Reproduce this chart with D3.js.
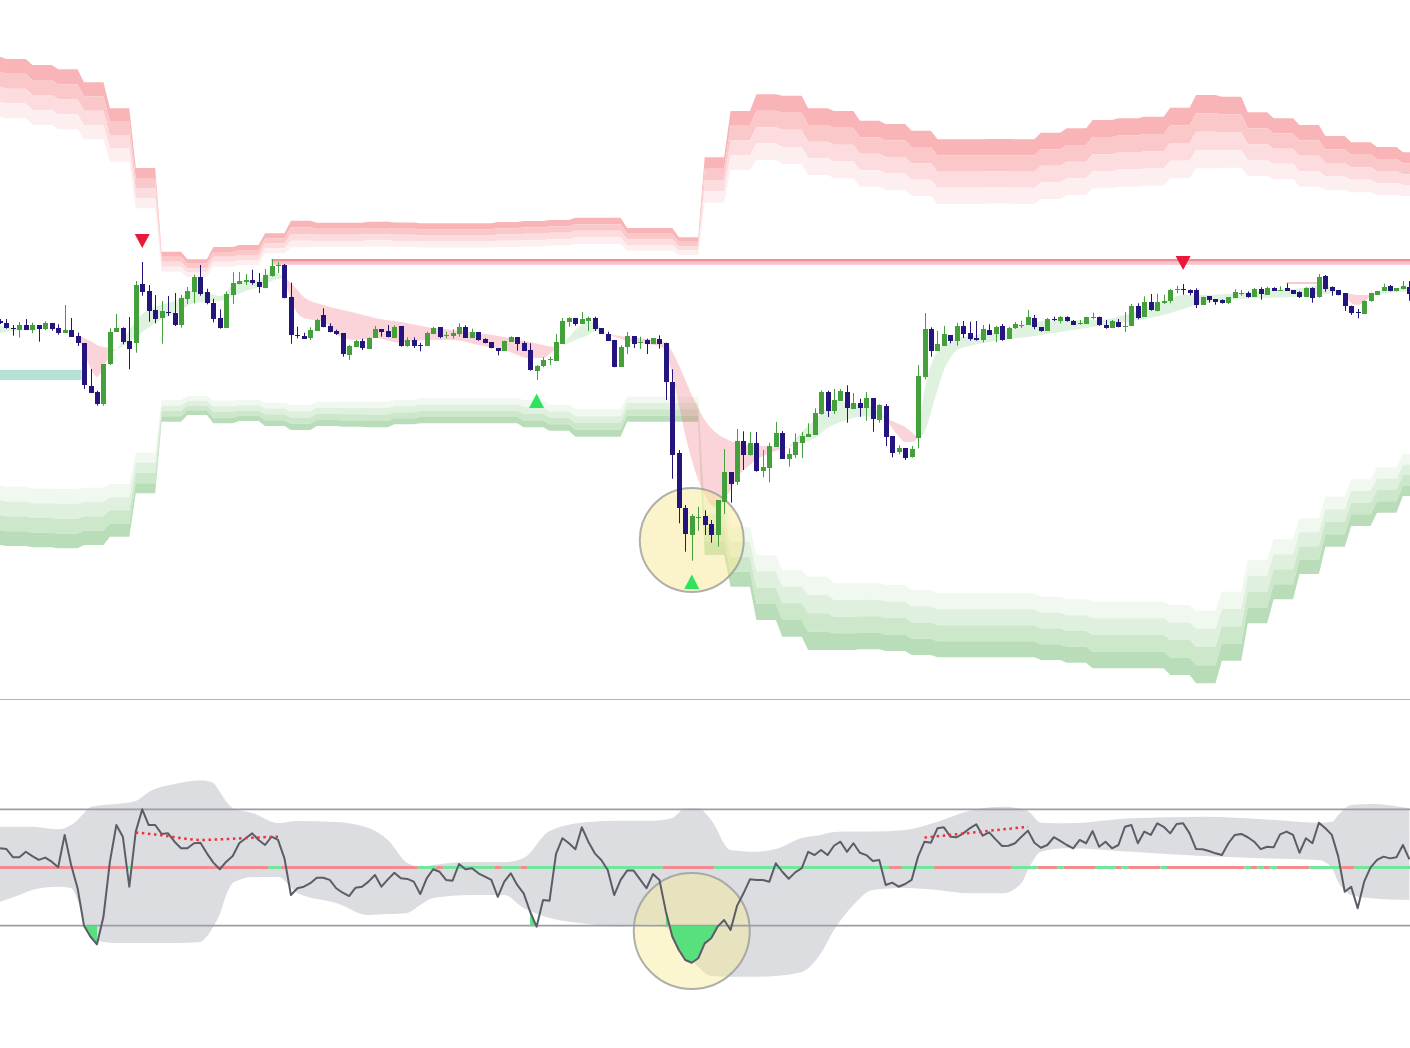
<!DOCTYPE html>
<html><head><meta charset="utf-8">
<script src="https://cdn.jsdelivr.net/npm/d3@7"></script>
<style>html,body{margin:0;padding:0;background:#fff;overflow:hidden}svg{display:block}</style>
</head><body>
<svg id="chart" width="1410" height="1048"></svg>
<script>
// ---------- candles (price units) ----------
const open = [379,376.7,372,370,375,370,375,371,377,372, 367,370.3,364,356.7,314.3,308,296,336,368,372, 359,357.3,416.3,409,390,382,388,387,375,401, 408.3,423,408.3,397,382,372,405.3,416.3,418.3,420, 418,412.3,424.3,434.7,435.3,402.7,364.7,364.3,361.7,369.3, 385.3,374,369.3,367,345,353.3,359.3,351,362.3,371, 369.3,362.7,374,354.3,360,355,354.3,366.3,373,364.3, 364,366,373.3,362,368,361,358,352,349.3,358, 363,357.3,349.7,329.3,334,340.3,339.3,356,378.3,382, 376,379.3,382,371.7,366,359.7,333.3,353,364,357.3, 359.7,355.7,361.3,357.3,318.3,246.7,191.7,165.3,183,183.7, 176,165.3,198.3,228,218.3,259,245,257,229,232, 253,267,241.3,245.3,257.3,263.3,265,286.3,308.3,289.3, 299,308,291.3,297,292,302,280.3,294,264,248, 252,242.3,262.3,323.3,371,349.3,354.3,365,359.3,374, 367,361.7,360,370,365.3,374,361,372,375,375, 381.7,372.7,369.3,381.3,378.7,383,379,376.7,376,382.7, 382.7,374.7,372,378,374,374.3,394,383.3,398,388.7, 396.7,398.7,410.7,411,410,410,395.3,403.7,400.7,400, 396.7,402.3,406.7,407,403,410.7,405.3,412.3,410,412.3, 410,408,403.3,412,402.3,423.7,413,410,407,394.3, 387.7,386.3,398.3,405.3,409.3,414,409.3,410.7,413.3];
const high = [381,381,375,378,381,377.3,375,378.7,377,375.7, 395,382,367.3,356.7,331,309.3,336,371.7,386,372.7, 383,419,438,415,405,399,404,407,405,413, 425.3,435,411.3,401.3,390.7,408.3,427.7,428,426,430.3, 427,431,440.7,438,436,417.3,373.3,367.3,372.7,381, 391.7,376.7,370.3,367,355,360,361.3,362.7,374,371, 375,374.7,374,362.7,362.7,357.3,368.3,373.3,373,368.3, 370.7,376.7,374.7,371.3,368,361.7,358,352,359.3,363.7, 363,358.7,356.7,335,342.7,343.3,366,382,382.7,382, 388,383.3,383.3,371.7,368.3,359.7,354.7,368,364,363.3, 361.3,362,364.7,357.3,330.7,250,195,186,193.3,189.7, 180,200,250.7,228,271,268.7,268,268,250,257.3, 278,269,251.7,266.7,268,276.7,291.7,309.7,309.3,311, 311,314.7,307,301.3,308,302,295.7,296,264,254.7, 252,254,335,387,372.7,369,374,365,377.3,379, 378.3,379,375,375.7,374,376,373.3,378,379.3,390, 385,372.7,382,383.3,384,383.7,380,380,383.3,387.3, 383.3,380,380,381,388,396,396.7,403.7,406,406.3, 405.3,411,414.3,416,410.7,411.7,403.3,403.7,400.7,400.7, 403,410.7,410,408.7,412,412.7,413.3,412.7,413.7,416.7, 410,408.7,412.7,412.7,426,425,413.7,410,407,394.3, 391,399.7,407.3,409.3,416.3,415,412,419,419];
const low = [376,371.3,364.3,362.3,370,366.7,358.3,370,369.3,365.3, 367,363,354,311,307.3,294.3,294.3,335,368,355.7, 330.7,347.3,404.3,378.3,376.7,356.3,384,374,372.3,396, 396.7,404.3,395.7,377.7,371.3,372,396,415.7,415,415.3, 407,411.7,423.3,427,401.7,356.3,361.7,361.3,360,369, 372.7,367.7,365,343.3,340,353.3,350,351,362.3,363.3, 362.7,362,353.3,353.3,352,348.7,354,366,361.7,361.7, 361.3,363.3,362,362,359.3,356.7,351.7,344.7,349.3,358, 349.3,349.3,329.3,320,332.7,335,339.3,356,373.3,374.3, 376,369,369,366,359,332.7,333.3,346,352,351, 346,355.7,351.3,300,221.3,176.7,148.3,139.3,169.3,165, 157.3,153.3,186,197.3,215,230,244.3,228.3,222.7,217.7, 253,241.3,233.3,242,242,263.3,265,285.3,283,286, 299,277.3,291.3,283.3,279.3,268.3,277.3,254,242.7,245.7, 240,242.3,251.7,320.7,343.3,349.3,354.3,356.7,354.3,362, 359.3,359.3,357.7,365.3,357.7,359.3,361,371,372,375, 370.7,368.3,369.3,379,376.7,378.3,375.3,375.3,376,380.7, 374.3,371.3,372,372.7,368,374.3,380.7,383.3,389.3,388.7, 396,396.7,406.7,405.3,404.7,392,395.3,397.3,395.3,396.3, 396,402.3,404.3,402.3,403,400.3,405.3,409.3,409.3,409.3, 406.3,402,403.3,397.3,402.3,408.3,404.3,404.7,389,385, 381.7,386.3,398.3,405.3,409.3,408.7,408.7,410.7,399.3];
const close = [377.5,371.3,371.3,375,370,375,371.3,377,371,367, 370.3,363,357.3,315,307.3,296,336,368,372,358, 351,415,408.3,389.3,381,389,387,375,402,409, 423,406,397,381,372,406,417.3,419,420,417.3, 412.7,425,434,435,402.3,364.3,363.7,361.3,370,380, 373.3,368.3,366,346.3,354.3,359.3,352,362,371,368, 363.3,373.3,354,360,354.3,354,367.3,372,363,365, 367.3,373,362.7,368,360,357.3,352.3,349.3,359.3,363, 356,349.3,330,334,340,340.7,358,379.3,382,376, 381,382,371,366,359,332.7,353.3,363.7,356,357.7, 355.3,362,356,318.3,245.3,191.3,165.3,184,183.3,174.3, 165.3,200,228,216,259,245,257,229,233.3,254, 267,241.3,246,258,264,266,287,308.3,289.3,300, 309,291.7,297,292,302,281.3,295,262.7,247.3,252, 242.3,250.7,324,371,349.3,356,366,359.3,374,366, 361,360,371,365.3,372.7,360,371.7,376.3,375.3,383, 372.7,369,381,380.7,382.7,379.3,375.3,377,382.7,383, 374.3,372,379,373.3,374.3,394,382,398,390,398, 399,410,411,410.3,407.3,395.3,403.3,400,397.7,397, 403,408,407,403,411.3,405.7,412.3,409.3,410.3,409.3, 406.3,403.3,412,402.3,422.7,411,409.3,404.7,394.3,387, 387,399.3,406.7,409.3,413.3,409.3,412,414,406.7];

// ---------- higher-timeframe bands, one value per 4-bar block ----------
const redTop = [643.3,641,635,630.7,617.7,591.7,532,448.3,440.7,453,455,466.7,479.3,477.3,477.3,478.3,477.5,476.7,476.7,476.7,478,479,480,482.3,482.3,472,472,462.7,542.7,589,605.7,604.3,591.7,589,579.3,576,569.3,560.7,560.7,561,560.7,567.3,571.7,580,581.7,583.3,592.3,605,603.3,587.7,581.7,575,564,557.7,553,547.7];
const redBot = [583,581.7,575,570.7,560.7,538.3,491.7,428.3,423,433.3,435,446.7,452.7,453,453,453.5,453,452.5,452.5,452.5,453,453.5,454.5,456,456,449.3,449.3,445,497.3,530,540,536,525,521.7,513.3,510,504,496,496,496.5,496,501,505,511.7,513.3,514.3,521.7,531.7,532.3,524,521,513.3,510,507.7,505,504];
const greenTop = [215,213.3,211.3,211,212.3,216,247.3,300,304,299.3,300,297.3,295,298.3,298.3,298.3,300,301.7,301.7,301.7,301.7,300,295,290.7,290.7,303.3,303.3,303.3,200,173,145,130,123.3,116.7,116.7,115,110,106.7,106.7,106.7,106.7,103.3,100.7,98.3,98.3,98.3,95,89.3,108.3,140,160.7,181.7,203.3,220.7,232.7,246];
const greenBot = [155,154,152.7,151.7,155,163.3,206.7,278.3,285,276.7,279,274,270,274,273.3,272.7,275.7,276.7,276.7,276.7,276.7,272.7,269.3,263.3,263.3,278.3,278.3,278.3,145,113.3,80,63.3,50,50,50.7,49,45,42.7,42.7,42.7,42.7,40,37.3,31.7,31.7,31.7,25,16.7,39.3,76.7,100.7,126,153.3,174,187.3,204];

// ---------- trend ribbon segments [bar, fast, slow] ----------
const ribbonUp1 = [[0,374,367],[2,372,369],[4,370.5,370.5]];
const ribbonDn1 = [[12,365,365],[13,348,362],[14,332,359],[15,323,355],[16,332,353],[17,345,352],[18,350,350]];
const ribbonUp2 = [[18,350,350],[20,370,358],[22,386,368],[24,393,377],[26,397,384],[28,402,390],[30,410,397],[32,408,398],[34,404,399],[36,415,404],[38,419,409],[40,420,413],[42,428,419],[44,423,423]];
const ribbonDn2 = [[44,423,423],[45,400,417],[46,387,410],[47,382,403],[50,378,395],[53,362,390],[55,360,387],[58,362,382],[62,357,378],[66,360,373],[70,360,370],[74,355,367],[78,350,363],[82,342,358],[84,342,355],[86,351,353],[87,354,354]];
const ribbonUp3 = [[87,354,354],[89,370,360],[91,378,365],[92,378,369],[93,372,368],[94,366,366]];
const ribbonDn3 = [[94,366,366],[97,359,363],[100,356,361],[102,354,359],[103,348,357],[104,325,348],[105,295,335],[106,265,320],[107,240,305],[108,220,292],[109,205,280],[110,195,272],[111,192,266],[112,200,262],[113,210,259],[114,222,257],[116,235,255],[118,244,254],[120,249,253],[122,253,253]];
const ribbonUp4 = [[122,253,253],[124,268,257],[126,280,262],[128,292,272],[130,298,278],[132,296,282],[134,295,284],[136,288,283],[137,282,282]];
const ribbonDn4 = [[137,282,282],[138,272,279],[139,264,276],[140,258,273],[141,258,268],[142,262,262]];
const ribbonUp5 = [[142,262,262],[143,310,268],[144,335,288],[145,348,310],[146,355,330],[147,358,342],[148,362,350],[150,364,354],[152,366,357],[155,368,360],[160,378,364],[165,380,369],[170,380,374],[175,387,379],[180,398,385],[183,405,391],[185,405,395],[190,406,400],[195,409,402],[200,411,403],[205,415,406],[207,409,407],[208,407,407]];
const ribbonDn5 = [[208,407,407],[209,397,406],[210,395,405],[211,398,405],[212,405,405]];
const ribbonUp6 = [[212,405,405],[214,410,406],[216,412,408],[218,413,409]];

// ---------- levels, zones, signals ----------
const resistance = {from: 42, to: 219, price: 438.5};
const minorLevel = {from: 199, to: 204, price: 417};
const supportZone = {from: 0, to: 12.6, hi: 330, lo: 320};
const sellSignals = [[22, 459], [183, 437]];
const buySignals = [[83, 299], [107, 118]];
const highlight = {bar: 107, price: 160, osc: 17.3};

// ---------- oscillator ----------
const osc = [59.9,59.5,55.3,55.3,58.1,55.9,53.9,55.1,53,50.1, 66.8,51.3,39.3,20,14.3,10.4,24.6,53,71.9,65.9, 40.1,68.5,80,71.9,71.9,67.3,67.6,63.3,59.9,59.9, 62.5,62.8,57.3,52.5,49.1,53,55.9,62.5,65.1,67.6, 64.2,61.6,65.9,64.2,54.7,35.8,39.3,40.1,41.9,44.7, 44.7,43.6,39.3,37,35.3,39.6,40.1,42.7,46.1,40.1, 43.9,47.3,44.4,44.1,42.7,36.3,44.4,49.1,47.8,43.6, 43.2,51.8,49.1,49.6,47,45.3,43.6,34.9,42.7,47, 41,36.7,27.2,19.5,33.2,32.9,57,65.1,62.5,59.4, 70.7,63.3,57.3,53.9,48.7,35.8,43.6,48.4,48.4,43.9, 39.3,46.6,43.6,27.2,14.3,7.5,2.3,0.9,3.2,10.9, 13.5,19.5,22.9,17.8,30.2,36.7,43.9,43.6,43.6,42.7, 52.2,47.8,44.2,47.5,49.6,58.1,56.4,59,56.4,61.2, 63.3,58.1,62.5,57.6,56.4,53.4,53.9,41,42.2,40.1, 41.5,43.6,55.6,63.3,62.8,70.2,70.7,65.9,65.6,67.6, 70.2,72.3,66.4,68.1,64.5,61.1,61.2,62.5,65.9,69, 62.8,60.2,61.6,65.6,63.7,61.6,59.9,64.2,62.5,68.8, 60.7,63.3,59.9,61.6,71,71.9,62.5,68.5,66.8,72.8, 71,67.6,72.4,72.8,67.6,59.5,59.4,58.5,57.3,56.4, 62.5,66.8,67.3,65.6,63.3,59.5,60.7,60.4,67.1,68.5, 66.8,57.6,65.1,62.5,73.1,70.2,66.8,55.6,37.5,40.1, 29,42.7,50.1,53.9,55.6,54.7,55.3,61.6,54.2];
const envelope = [[0,71,32.4],[3,71,35.8],[5,71,38.4],[9,69.7,40.1],[11,71.9,39.4],[12,74.5,33.2],[13,78.1,22.9],[14,81.2,14.7],[16,82.2,11.6],[18,82.7,11.1],[21,84.3,11.1],[23,88.9,11.1],[27,93,11.1],[31,94.8,11.6],[32,94.6,14.5],[33,93.5,19.5],[34,89,26],[35,84,36],[36,80.5,42],[37,79.6,43.6],[39,78.1,45.1],[43,72.9,45.1],[46,74,36.9],[52,73.5,31.7],[57,70.4,25.5],[60,64.2,26],[63,52.3,26.6],[65,50.4,30.7],[67,51.3,34.3],[73,52.8,35.8],[78,52.8,35.8],[81,54.9,29.1],[85,68.8,24],[91,73.5,20.9],[96,74.1,19.5],[101,74.1,20.9],[104,75.5,16.8],[106,80.5,6.4],[108,80.5,-1.3],[110,74.5,-5.9],[113,59,-6.3],[117,58.1,-6.3],[120,59.5,-5.9],[124,65.2,-3.9],[127,66.8,5.9],[129,68.3,17.8],[132,68.5,30.7],[135,68.5,38.4],[140,69.3,39.4],[145,73.6,38.4],[150,79.3,36.7],[155,81.3,36.7],[158,80.2,42],[159,79.1,48.7],[161,73.1,58.1],[165,72.8,59.9],[175,75.4,58.1],[186,76.2,55.9],[196,74.8,54.7],[204,73.1,53.9],[206,73.6,49.7],[207,77.1,42.5],[209,82.2,35.8],[212,82.7,34.1],[218,80.5,33.2]];
const oscLevels = [80, 50, 20];
const midState = [[0,19,'dn'],[20,20,'up'],[21,41,'dn'],[42,43,'up'],[44,64,'dn'],[65,67,'up'],[68,68,'dn'],[69,76,'up'],[77,77,'dn'],[78,80,'up'],[81,81,'dn'],[82,102,'up'],[103,110,'dn'],[111,137,'up'],[138,139,'dn'],[140,144,'up'],[145,156,'dn'],[157,160,'up'],[161,163,'dn'],[164,164,'up'],[165,169,'dn'],[170,172,'up'],[173,173,'dn'],[174,174,'up'],[175,179,'dn'],[180,180,'up'],[181,192,'dn'],[193,193,'up'],[194,194,'dn'],[195,195,'up'],[196,196,'dn'],[197,197,'up'],[198,202,'dn'],[203,207,'up'],[208,209,'dn'],[210,218,'up']];
const oversoldFills = [[13,15],[82,83],[103,111]];
const divergence1 = [[21,68.1],[25,66.6],[28,65.2],[31,64.2],[34,64.5],[37,65],[40,65.5],[43,65.9]];
const divergence2 = [[143,65.4],[159,71]];

// ---------- drawing ----------
const svg = d3.select('#chart');
const x = d3.scaleLinear().domain([0, 218]).range([0, 1409.4]);
const y = d3.scaleLinear().domain([0, 700]).range([700, 0]);
const yo = d3.scaleLinear().domain([20, 80]).range([925.7, 809.3]);

const UP = '#43a03a', DOWN = '#23157d';
const main = svg.append('g');

// bands
const bars = d3.range(-1, 221);
const blk = (arr, i) => arr[Math.max(0, Math.min(arr.length - 1, Math.ceil(i / 4)))];
function drawBand(topArr, botArr, colors) {
  for (let k = 0; k < 4; k++) {
    const area = d3.area()
      .x(i => x(i))
      .y0(i => { const t = blk(topArr, i), b = blk(botArr, i); return y(t - (t - b) * k / 4); })
      .y1(i => { const t = blk(topArr, i), b = blk(botArr, i); return y(t - (t - b) * (k + 1) / 4); });
    main.append('path').datum(bars).attr('d', area).attr('fill', colors[k]);
  }
}
drawBand(redTop, redBot, ['#f9b4b7', '#fbc8ca', '#fcdcde', '#fdeff0']);
drawBand(greenTop, greenBot, ['#f1f8f0', '#e0f0de', '#cde7cb', '#b9ddb8']);

// ribbons
const ribArea = d3.area().x(d => x(d[0])).y0(d => y(d[2])).y1(d => y(d[1])).curve(d3.curveMonotoneX);
[ribbonUp1, ribbonUp2, ribbonUp3, ribbonUp4, ribbonUp5, ribbonUp6].forEach(s =>
  main.append('path').datum(s).attr('d', ribArea).attr('fill', 'rgba(76,175,80,0.18)'));
[ribbonDn1, ribbonDn2, ribbonDn3, ribbonDn4, ribbonDn5].forEach(s =>
  main.append('path').datum(s).attr('d', ribArea).attr('fill', 'rgba(240,100,120,0.28)'));

// support zone
main.append('rect')
  .attr('x', x(supportZone.from)).attr('width', x(supportZone.to) - x(supportZone.from))
  .attr('y', y(supportZone.hi)).attr('height', y(supportZone.lo) - y(supportZone.hi))
  .attr('fill', '#b4e0d6');

// resistance lines
main.append('line').attr('x1', x(resistance.from)).attr('x2', x(resistance.to))
  .attr('y1', y(resistance.price) + 1.6).attr('y2', y(resistance.price) + 1.6)
  .attr('stroke', '#f8c2c8').attr('stroke-width', 3.4);
main.append('line').attr('x1', x(resistance.from)).attr('x2', x(resistance.to))
  .attr('y1', y(resistance.price) - 1.3).attr('y2', y(resistance.price) - 1.3)
  .attr('stroke', '#f08f99').attr('stroke-width', 2.4);
main.append('line').attr('x1', x(minorLevel.from)).attr('x2', x(minorLevel.to))
  .attr('y1', y(minorLevel.price)).attr('y2', y(minorLevel.price))
  .attr('stroke', '#f6b7bf').attr('stroke-width', 1.5);

// highlight circle (main)
main.append('circle').attr('cx', x(highlight.bar)).attr('cy', y(highlight.price)).attr('r', 52)
  .attr('fill', 'rgba(247,234,150,0.5)').attr('stroke', 'rgba(150,150,150,0.75)').attr('stroke-width', 2);

// candles
const candles = open.map((o, i) => ({i, o, h: high[i], l: low[i], c: close[i]}));
const cx = d => Math.round(x(d.i));
main.selectAll('line.wick').data(candles).join('line').attr('class', 'wick')
  .attr('x1', d => cx(d) + 0.5).attr('x2', d => cx(d) + 0.5)
  .attr('y1', d => y(d.h)).attr('y2', d => y(d.l))
  .attr('stroke', d => d.c >= d.o ? UP : DOWN).attr('stroke-width', 1);
main.selectAll('rect.body').data(candles).join('rect').attr('class', 'body')
  .attr('x', d => cx(d) - 2).attr('width', 5)
  .attr('y', d => Math.round(y(Math.max(d.o, d.c))))
  .attr('height', d => Math.max(1, Math.round(Math.abs(y(d.o) - y(d.c)))))
  .attr('fill', d => d.c >= d.o ? UP : DOWN);

// signals
sellSignals.forEach(([i, p]) => {
  const X = x(i), Y = y(p);
  main.append('path').attr('d', `M${X - 7.5},${Y - 7}L${X + 7.5},${Y - 7}L${X},${Y + 7}Z`).attr('fill', '#e8183b');
});
buySignals.forEach(([i, p]) => {
  const X = x(i), Y = y(p);
  main.append('path').attr('d', `M${X},${Y - 7.5}L${X + 7.5},${Y + 7}L${X - 7.5},${Y + 7}Z`).attr('fill', '#2ee35e');
});

// separator
svg.append('line').attr('x1', 0).attr('x2', 1410).attr('y1', 699.5).attr('y2', 699.5)
  .attr('stroke', '#b5b5b5').attr('stroke-width', 1);

// ---------- oscillator panel ----------
const lower = svg.append('g');
lower.append('path').datum(envelope)
  .attr('d', d3.area().x(d => x(d[0])).y0(d => yo(d[2])).y1(d => yo(d[1])).curve(d3.curveMonotoneX))
  .attr('fill', '#dcdde0');
lower.append('circle').attr('cx', x(highlight.bar)).attr('cy', yo(highlight.osc)).attr('r', 58)
  .attr('fill', 'rgba(247,234,150,0.45)').attr('stroke', 'rgba(150,150,150,0.75)').attr('stroke-width', 2);
[oscLevels[0], oscLevels[2]].forEach(v =>
  lower.append('line').attr('x1', 0).attr('x2', 1410).attr('y1', yo(v)).attr('y2', yo(v))
    .attr('stroke', '#9d9da6').attr('stroke-width', 1.8));
midState.forEach(([a, b, s]) =>
  lower.append('line').attr('x1', Math.max(0, x(a - 0.5))).attr('x2', Math.min(1410, x(b + 0.5)))
    .attr('y1', yo(oscLevels[1])).attr('y2', yo(oscLevels[1]))
    .attr('stroke', s === 'up' ? '#74e59c' : '#f28c92').attr('stroke-width', 3));
oversoldFills.forEach(([a, b]) => {
  const pts = d3.range(a, b + 1);
  lower.append('path').datum(pts)
    .attr('d', d3.area().x(i => x(i)).y0(yo(oscLevels[2])).y1(i => yo(osc[i])))
    .attr('fill', '#58e07e');
});
lower.append('path').datum(osc)
  .attr('d', d3.line().x((v, i) => x(i)).y(v => yo(v)))
  .attr('fill', 'none').attr('stroke', '#5c5c68').attr('stroke-width', 2).attr('stroke-linejoin', 'round');
[divergence1, divergence2].forEach(dv =>
  lower.append('path').datum(dv)
    .attr('d', d3.line().x(d => x(d[0])).y(d => yo(d[1])).curve(d3.curveMonotoneX))
    .attr('fill', 'none').attr('stroke', '#f0303c').attr('stroke-width', 2.5).attr('stroke-dasharray', '2.5 3.6'));
</script>
</body></html>
